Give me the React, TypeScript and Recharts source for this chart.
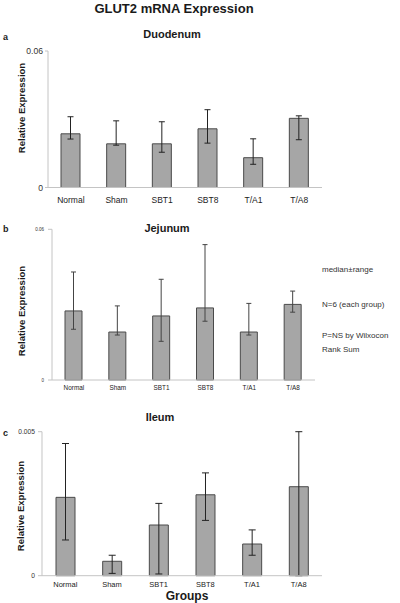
import { BarChart, Bar, XAxis, YAxis, ErrorBar } from 'recharts'

const groups = ['Normal', 'Sham', 'SBT1', 'SBT8', 'T/A1', 'T/A8']

const duodenumMedian = [0.0236, 0.0192, 0.0192, 0.0258, 0.0131, 0.0304]
const duodenumMin = [0.0213, 0.0186, 0.0155, 0.0195, 0.0102, 0.021]
const duodenumMax = [0.0311, 0.0293, 0.0289, 0.0342, 0.0214, 0.0315]

const jejunumMedian = [0.0275, 0.0191, 0.0255, 0.0287, 0.0191, 0.0301]
const jejunumMin = [0.0202, 0.0179, 0.0154, 0.0234, 0.0179, 0.027]
const jejunumMax = [0.043, 0.0295, 0.0401, 0.0539, 0.0305, 0.0354]

// T/A8 upper range reaches the top of the axis in the original
const ileumMedian = [0.00272, 0.0005, 0.00176, 0.00281, 0.0011, 0.00309]
const ileumMin = [0.00124, 0.00008, 0.00006, 0.00192, 0.00071, 0]
const ileumMax = [0.00459, 0.00071, 0.00251, 0.00357, 0.00159, 0.005]

const duodenumTicks = [0, 0.06]
const jejunumTicks = [0, 0.06]
const ileumTicks = [0, 0.005]

const notes = ['median±range', 'N=6 (each group)', 'P=NS by Wilxocon', 'Rank Sum']
const noteY = [269, 304, 335, 349]

const FONT = '"Liberation Sans", Arial, sans-serif'
const BAR_FILL = '#a6a6a6'
const BAR_STROKE = '#4a4a4a'
const AXIS = '#c4c4c4'

// median with [below, above] deltas for ErrorBar
function buildRows(median: number[], min: number[], max: number[]) {
  return groups.map((name, i) => ({
    name,
    median: median[i],
    range: [median[i] - min[i], max[i] - median[i]]
  }))
}

const fmt = (v: number) => (v === 0 ? '0' : String(v))

interface PanelProps {
  top: number
  height: number
  marginTop: number
  yWidth: number
  right: number
  xHeight: number
  data: { name: string; median: number; range: number[] }[]
  ticks: number[]
  barSize: number
  yFont: number
  xFont: number
  xTickSize: number
  xTickMargin: number
  yTickSize: number
  yTickMargin: number
  capWidth: number
  errStroke: string
}

function Panel(p: PanelProps) {
  return (
    <div style={{ position: 'absolute', left: 0, top: p.top }}>
      <BarChart
        width={400}
        height={p.height}
        data={p.data}
        margin={{ top: p.marginTop, right: p.right, bottom: 0, left: 0 }}
        style={{ fontFamily: FONT }}
      >
        <XAxis
          dataKey="name"
          height={p.xHeight}
          tickLine={false}
          tickSize={p.xTickSize}
          tickMargin={p.xTickMargin}
          axisLine={{ stroke: AXIS }}
          tick={{ fontSize: p.xFont, fill: '#222' }}
          interval={0}
        />
        <YAxis
          width={p.yWidth}
          domain={[p.ticks[0], p.ticks[p.ticks.length - 1]]}
          ticks={p.ticks}
          tickFormatter={fmt}
          tickSize={p.yTickSize}
          tickMargin={p.yTickMargin}
          axisLine={{ stroke: AXIS }}
          tickLine={{ stroke: AXIS }}
          tick={{ fontSize: p.yFont, fill: '#333' }}
        />
        <Bar
          dataKey="median"
          fill={BAR_FILL}
          stroke={BAR_STROKE}
          strokeWidth={1}
          barSize={p.barSize}
          isAnimationActive={false}
        >
          <ErrorBar dataKey="range" width={p.capWidth} stroke={p.errStroke} strokeWidth={1} isAnimationActive={false} />
        </Bar>
      </BarChart>
    </div>
  )
}

export default function App() {
  const txt = { fontFamily: FONT, fill: '#1a1a1a' }
  return (
    <div style={{ position: 'absolute', left: 0, top: 0, width: 400, height: 603, background: '#fff' }}>
      <Panel
        top={40}
        height={172.5}
        marginTop={11}
        yWidth={48}
        right={78}
        xHeight={25}
        data={buildRows(duodenumMedian, duodenumMin, duodenumMax)}
        ticks={duodenumTicks}
        barSize={19}
        yFont={8.6}
        xFont={8.5}
        xTickSize={6}
        xTickMargin={3}
        yTickSize={3}
        yTickMargin={2}
        capWidth={3}
        errStroke="#222"
      />
      <Panel
        top={220}
        height={175}
        marginTop={9.3}
        yWidth={52}
        right={85}
        xHeight={15}
        data={buildRows(jejunumMedian, jejunumMin, jejunumMax)}
        ticks={jejunumTicks}
        barSize={17}
        yFont={4.5}
        xFont={6.4}
        xTickSize={4}
        xTickMargin={1.5}
        yTickSize={4}
        yTickMargin={4}
        capWidth={2.5}
        errStroke="#444"
      />
      <Panel
        top={425}
        height={164.7}
        marginTop={6.7}
        yWidth={42}
        right={78}
        xHeight={14}
        data={buildRows(ileumMedian, ileumMin, ileumMax)}
        ticks={ileumTicks}
        barSize={19}
        yFont={6.7}
        xFont={7.5}
        xTickSize={4}
        xTickMargin={2}
        yTickSize={4}
        yTickMargin={3}
        capWidth={3.5}
        errStroke="#222"
      />
      <svg
        width={400}
        height={603}
        style={{ position: 'absolute', left: 0, top: 0, pointerEvents: 'none' }}
      >
        <text x={174} y={8} textAnchor="middle" dominantBaseline="central" fontSize={13} fontWeight="bold" {...txt}>
          GLUT2 mRNA Expression
        </text>

        <text x={3} y={37} dominantBaseline="central" fontSize={9} fontWeight="bold" {...txt}>a</text>
        <text x={172} y={34} textAnchor="middle" dominantBaseline="central" fontSize={11} fontWeight="bold" {...txt}>Duodenum</text>
        <text x={21} y={108} transform="rotate(-90 21 108)" textAnchor="middle" dominantBaseline="central" fontSize={9.5} fontWeight="bold" {...txt}>
          Relative Expression
        </text>

        <text x={3} y={229} dominantBaseline="central" fontSize={9} fontWeight="bold" {...txt}>b</text>
        <text x={167} y={228} textAnchor="middle" dominantBaseline="central" fontSize={11} fontWeight="bold" {...txt}>Jejunum</text>
        <text x={21} y={311} transform="rotate(-90 21 311)" textAnchor="middle" dominantBaseline="central" fontSize={9.5} fontWeight="bold" {...txt}>
          Relative Expression
        </text>
        {notes.map((n, i) => (
          <text key={n} x={322} y={noteY[i]} dominantBaseline="central" fontSize={8} fontFamily={FONT} fill="#333">
            {n}
          </text>
        ))}

        <text x={3} y={433} dominantBaseline="central" fontSize={9} fontWeight="bold" {...txt}>c</text>
        <text x={160} y={417} textAnchor="middle" dominantBaseline="central" fontSize={11} fontWeight="bold" {...txt}>Ileum</text>
        <text x={20} y={506} transform="rotate(-90 20 506)" textAnchor="middle" dominantBaseline="central" fontSize={9.5} fontWeight="bold" {...txt}>
          Relative Expression
        </text>
        <text x={187} y={596} textAnchor="middle" dominantBaseline="central" fontSize={12} fontWeight="bold" {...txt}>Groups</text>
      </svg>
    </div>
  )
}
